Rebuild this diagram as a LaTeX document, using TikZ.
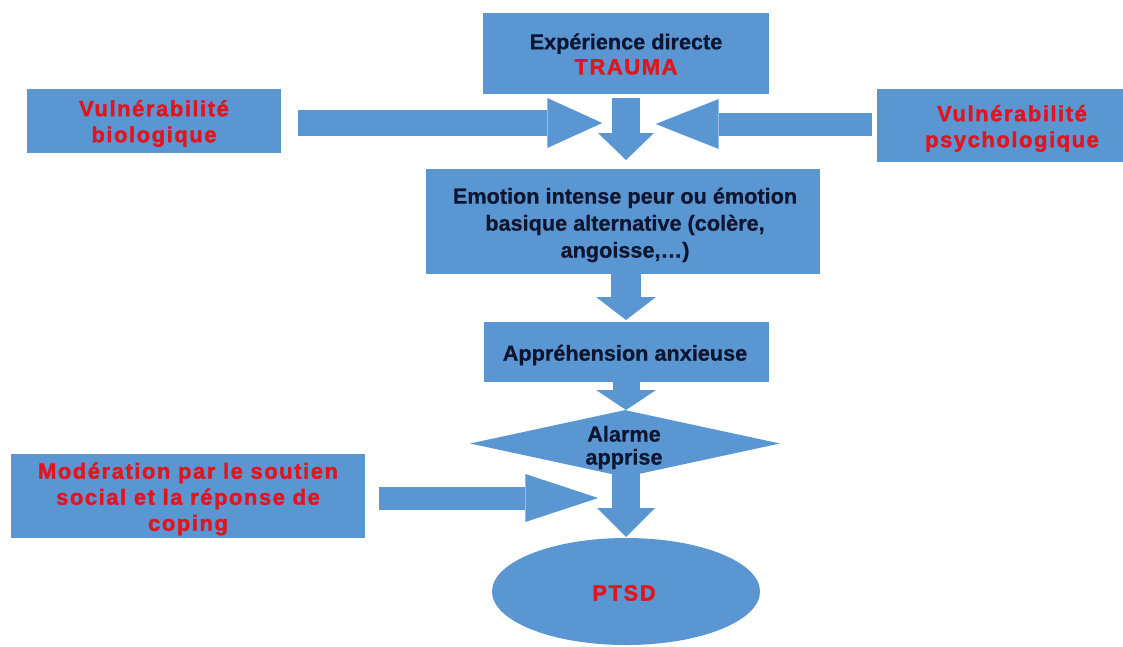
\documentclass[tikz,border=0pt]{standalone}
\usepackage{fontspec}
\setmainfont{Liberation Sans}[BoldFeatures={FakeBold=0.6}]
\newfontfamily\redfamily{Liberation Sans}[LetterSpace=7, BoldFeatures={FakeBold=1.6}]
\usetikzlibrary{shapes.geometric,arrows.meta,calc}
\definecolor{boxblue}{HTML}{5A96D2}
\definecolor{redtxt}{HTML}{E3141E}
\definecolor{darktxt}{HTML}{0D1530}
\tikzset{
  box/.style={rectangle, fill=boxblue, inner sep=0pt},
  darkt/.style={text=darktxt, align=center, inner sep=0pt, font=\fontsize{16.25}{19.5}\selectfont\bfseries},
  redt/.style={text=redtxt, align=center, inner sep=0pt, font=\redfamily\fontsize{16.5}{19.5}\selectfont\bfseries},
  flow/.style n args={3}{draw=boxblue, line width=#1, -{Triangle[length=#2,width=#3,line width=0pt,fill=boxblue]}}
}
\begin{document}
\begin{tikzpicture}[x=0.75pt,y=-0.75pt]
\useasboundingbox (0,0) rectangle (1123,646);

% boxes
\node[box, minimum width=214.5pt, minimum height=60.75pt] (top) at (626,53.5) {};
\node[darkt, font=\fontsize{16.25}{18.75}\selectfont\bfseries] (toptext) at (626,54)
  {Expérience directe\\{\redfamily\fontsize{16.5}{18.75}\selectfont\bfseries\color{redtxt}TRAUMA}};

\node[box, minimum width=190.5pt, minimum height=48pt] (bio) at (154,121) {};
\node[redt] (biotext) at (154,123.5) {Vulnérabilité\\biologique};

\node[box, minimum width=184.5pt, minimum height=54.75pt] (psy) at (1000,125.5) {};
\node[redt] (psytext) at (1012,128.5) {Vulnérabilité\\psychologique};

\node[box, minimum width=295.5pt, minimum height=78.75pt] (emo) at (623,221.5) {};
\node[darkt, font=\fontsize{16.25}{20.25}\selectfont\bfseries] (emotext) at (625,225)
  {Emotion intense peur ou émotion\\basique alternative (colère,\\angoisse,…)};

\node[box, minimum width=213.75pt, minimum height=45pt] (appr) at (626.5,352) {};
\node[darkt] (apprtext) at (625,355) {Appréhension anxieuse};

\node[diamond, fill=boxblue, inner sep=0pt, aspect=4.6,
      minimum width=232.5pt, minimum height=50.25pt] (alarm) at (625,443.5) {};
\node[darkt, font=\fontsize{16.25}{17.25}\selectfont\bfseries] (alarmtext) at (624,447.5) {Alarme\\apprise};

\node[box, minimum width=265.5pt, minimum height=63pt] (mod) at (188,496) {};
\node[redt] (modtext) at (188,499) {Modération par le soutien\\social et la réponse de\\coping};

\node[ellipse, fill=boxblue, inner sep=0pt, minimum width=201pt, minimum height=80.25pt] (ptsd) at (626,591.5) {};
\node[redt] (ptsdtext) at (624,593) {PTSD};

% arrow end points
\coordinate (sL) at ($(bio.east)+(17,2)$);
\coordinate (jL) at ($(sL)+(304,0)$);
\coordinate (sR) at ($(psy.west)+(-5,-1.5)$);
\coordinate (jR) at ($(sR)+(-216,0)$);
\coordinate (sM) at ($(mod.east)+(14,2)$);
\coordinate (jM) at ($(sM)+(219,0)$);
\coordinate (t1) at (626,98);
\coordinate (t1e) at (626,160);
\coordinate (t2) at (626,274);
\coordinate (t2e) at (626,320);
\coordinate (t3) at (626,382);
\coordinate (t3e) at (626,410);
\coordinate (t4) at (626,470);
\coordinate (t4e) at (626,537);

% block arrows
\draw[flow={19.5pt}{41.25pt}{37.5pt}] (sL) -- (jL);
\draw[flow={17.25pt}{47.25pt}{37.5pt}] (sR) -- (jR);
\draw[flow={21pt}{20.25pt}{42pt}] (t1) -- (t1e);
\draw[flow={23pt}{17.25pt}{45pt}] (t2) -- (t2e);
\draw[flow={20.25pt}{15pt}{45pt}] (t3) -- (t3e);
\draw[flow={21pt}{21.75pt}{43.5pt}] (t4) -- (t4e);
\draw[flow={17.25pt}{54.75pt}{36pt}] (sM) -- (jM);
\end{tikzpicture}
\end{document}
